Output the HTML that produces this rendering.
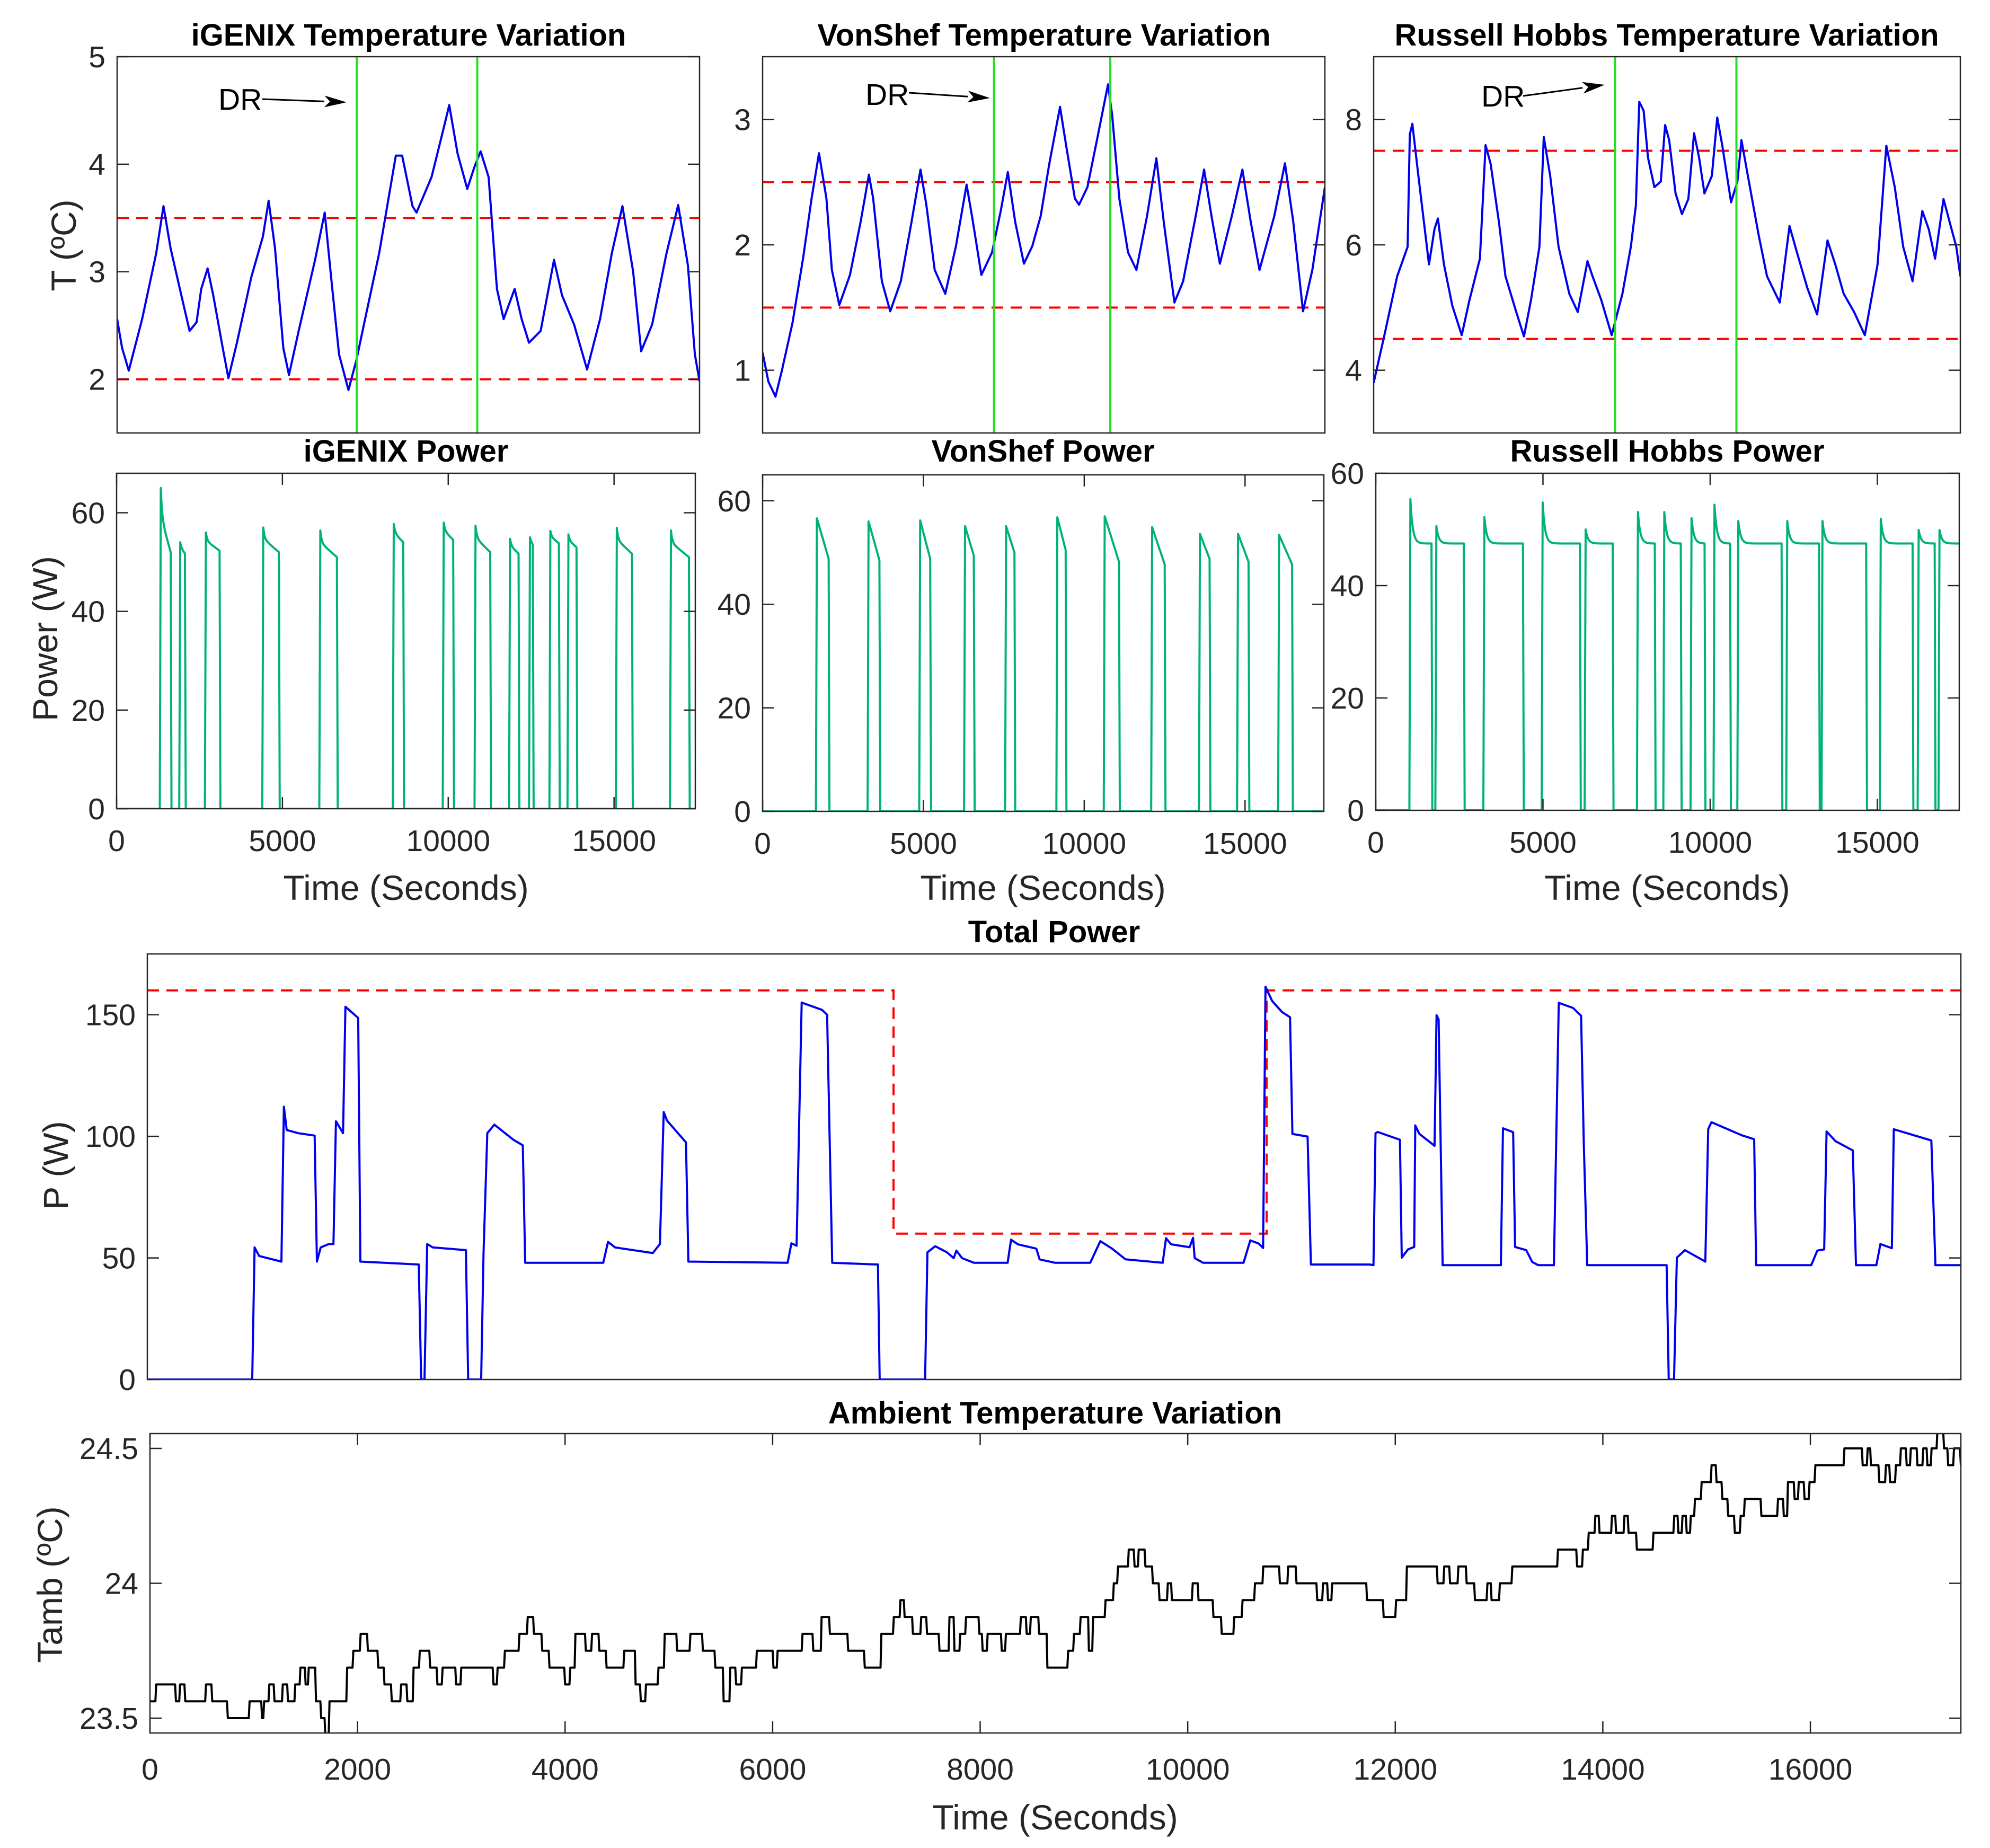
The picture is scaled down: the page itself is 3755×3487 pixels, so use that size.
<!DOCTYPE html>
<html><head><meta charset="utf-8"><title>Temperature and Power Variation</title>
<style>html,body{margin:0;padding:0;background:#fff}svg{display:block}text{font-family:"Liberation Sans",Arial,sans-serif;fill:#262626}.t{font-weight:bold;font-size:58px;fill:#000}.tk{font-size:57px}.al{font-size:66px}</style>
</head><body>
<svg id="fig" width="3755" height="3487" viewBox="0 0 3755 3487" xmlns="http://www.w3.org/2000/svg">
<rect width="3755" height="3487" fill="#fff"/>
<text class="t" x="771" y="86" text-anchor="middle">iGENIX Temperature Variation</text>
<text class="t" x="1970" y="86" text-anchor="middle">VonShef Temperature Variation</text>
<text class="t" x="3145" y="86" text-anchor="middle">Russell Hobbs Temperature Variation</text>
<text class="t" x="766" y="871" text-anchor="middle">iGENIX Power</text>
<text class="t" x="1968" y="871" text-anchor="middle">VonShef Power</text>
<text class="t" x="3146" y="871" text-anchor="middle">Russell Hobbs Power</text>
<text class="t" x="1989" y="1778" text-anchor="middle">Total Power</text>
<text class="t" x="1991" y="2686" text-anchor="middle">Ambient Temperature Variation</text>
<text class="al" x="766" y="1698" text-anchor="middle">Time (Seconds)</text>
<text class="al" x="1968" y="1698" text-anchor="middle">Time (Seconds)</text>
<text class="al" x="3146" y="1698" text-anchor="middle">Time (Seconds)</text>
<text class="al" x="1991" y="3452" text-anchor="middle">Time (Seconds)</text>
<text class="al" x="143" y="463" text-anchor="middle" transform="rotate(-90 143 463)">T (ºC)</text>
<text class="al" x="108" y="1205" text-anchor="middle" transform="rotate(-90 108 1205)">Power (W)</text>
<text class="al" x="128" y="2199" text-anchor="middle" transform="rotate(-90 128 2199)">P (W)</text>
<text class="al" x="117" y="2990" text-anchor="middle" transform="rotate(-90 117 2990)">Tamb (ºC)</text>
<g id="clips"></g>
</svg>
<script>
// ---- data ----
const XMAX = 17450;
const drStart = 7180;
const drEnd = 10790;
const igTempT = [0,150,350,750,1170,1390,1600,1880,2170,2380,2520,2710,2880,3165,3335,3590,4020,4370,4540,4730,4980,5150,5440,5930,6220,6430,6650,6930,7170,7430,7850,8350,8540,8850,8970,9420,9780,9950,10200,10490,10700,10890,11130,11380,11580,11910,12120,12340,12690,13090,13330,13690,14080,14470,14820,15140,15460,15700,16030,16460,16810,17100,17310,17450];
const igTempV = [2.56,2.29,2.08,2.56,3.17,3.61,3.22,2.84,2.45,2.53,2.84,3.03,2.78,2.29,2.01,2.34,2.95,3.33,3.66,3.22,2.29,2.04,2.45,3.11,3.55,2.89,2.23,1.90,2.18,2.56,3.17,4.08,4.08,3.61,3.55,3.88,4.33,4.55,4.10,3.77,3.97,4.12,3.88,2.84,2.56,2.84,2.56,2.34,2.45,3.11,2.78,2.51,2.09,2.56,3.17,3.61,3.00,2.26,2.51,3.17,3.62,3.06,2.23,1.98];
const igLimits = [2, 3.5];
const vsTempT = [0,180,400,600,930,1260,1520,1750,1980,2150,2380,2710,3040,3300,3430,3700,3960,4290,4620,4900,5080,5340,5670,6000,6330,6530,6790,7120,7390,7610,7840,8110,8370,8630,8900,9230,9420,9690,9820,10080,10410,10720,10850,11070,11340,11600,11930,12220,12450,12780,13050,13440,13700,13930,14190,14560,14890,15150,15420,15880,16210,16470,16770,17060,17450];
const vsTempV = [1.14,0.91,0.79,1.00,1.38,1.90,2.37,2.73,2.37,1.80,1.52,1.76,2.18,2.56,2.37,1.71,1.47,1.71,2.18,2.60,2.32,1.80,1.61,1.99,2.48,2.18,1.76,1.94,2.27,2.58,2.18,1.85,1.99,2.23,2.65,3.10,2.79,2.37,2.32,2.46,2.88,3.28,3.03,2.37,1.94,1.80,2.23,2.69,2.18,1.54,1.71,2.23,2.60,2.23,1.85,2.23,2.60,2.18,1.80,2.23,2.65,2.18,1.47,1.80,2.46];
const vsLimits = [1.5, 2.5];
const rhTempT = [0,320,700,1010,1075,1150,1330,1645,1810,1910,2090,2340,2620,2850,3160,3330,3480,3730,3920,4240,4470,4680,4930,5060,5250,5500,5820,6070,6360,6510,6770,7080,7400,7650,7800,7900,8030,8160,8350,8540,8670,8790,8980,9170,9360,9530,9680,9840,10060,10220,10370,10630,10820,10940,11130,11450,11700,12080,12370,12590,12900,13190,13500,13730,13980,14290,14610,14990,15250,15500,15750,16030,16320,16510,16700,16950,17140,17330,17450];
const rhTempV = [3.80,4.56,5.50,5.97,7.76,7.93,7.10,5.69,6.25,6.42,5.69,5.03,4.56,5.12,5.78,7.59,7.29,6.35,5.50,4.93,4.54,5.12,5.97,7.72,7.10,5.97,5.22,4.93,5.74,5.50,5.12,4.56,5.22,5.97,6.63,8.28,8.14,7.39,6.92,7.01,7.91,7.67,6.82,6.49,6.73,7.78,7.39,6.82,7.10,8.03,7.58,6.68,7.01,7.67,7.10,6.16,5.50,5.08,6.30,5.88,5.31,4.89,6.07,5.69,5.22,4.93,4.56,5.69,7.58,6.92,5.97,5.42,6.54,6.25,5.78,6.73,6.35,5.97,5.50];
const rhLimits = [4.5, 7.5];
const igOn = [1302,1889,2662,4393,6113,8328,9834,10793,11834,12435,13050,13595,15054,16686];
const igOff = [1631,2060,3105,4894,6643,8643,10149,11265,12120,12550,13337,13867,15540,17258];
const igPeak = [65,54,56,57,56.4,57.7,58,57.4,54.7,55,56.3,55.6,56.9,56.4];
const igEnd = [52,51.7,52.3,52,51,54,54.5,52,51.7,53.5,53.8,53,51.7,51];
const vsOn = [1658,3264,4869,6264,7540,9133,10607,12081,13568,14753,16029];
const vsOff = [2053,3632,5211,6567,7830,9422,11081,12502,13897,15109,16463];
const vsPeak = [56.6,56,56.2,55.1,55.1,56.8,57,54.9,53.6,53.6,53.4];
const vsEnd = [48.8,48.5,48.8,49.4,50,50.5,48.2,47.7,48.8,48.2,47.7];
const rhOn = [1005,1781,3218,4961,6246,7810,8599,9413,10100,10812,12275,13330,15073,16206,16829];
const rhOff = [1666,2633,4401,6106,7085,8344,9121,9833,10596,12135,13254,14665,16053,16714,17450];
const rhPeak = [55.4,50.6,52.2,54.8,50,53.1,53.1,52,54.4,51.5,51.5,51.5,51.9,49.9,49.9];
const rhEnd = [47.5,47.5,47.5,47.5,47.5,47.5,47.5,47.5,47.5,47.5,47.5,47.5,47.5,47.5,47.5];
const totT = [0,1009,1032,1076,1177,1290,1314,1341,1452,1610,1632,1668,1746,1791,1815,1883,1906,2029,2050,2612,2635,2667,2693,2747,3065,3087,3212,3235,3271,3339,3522,3613,3636,4387,4433,4501,4864,4932,4969,5000,5183,5206,6161,6198,6247,6296,6492,6541,6590,7030,7047,7484,7506,7581,7694,7759,7785,7840,7954,8278,8311,8376,8554,8586,8732,9073,9170,9283,9413,9770,9802,9851,10029,10062,10078,10159,10548,10613,10694,10736,10759,10824,10921,10995,11018,11164,11196,11764,11798,11818,11838,12053,12070,12131,12190,12200,12240,12386,12405,12425,12464,13024,13044,13142,13161,13268,13326,13385,13534,13581,13718,13796,13823,13855,14619,14639,14690,14717,14795,14991,15019,15050,15344,15461,15480,16010,16069,16135,16158,16244,16410,16441,16637,16676,16786,16805,17166,17205,17450];
const totP = [0,0,54.3,50.8,49.7,48.5,112.2,102.6,101.3,100.3,48.5,54.3,55.7,55.7,106.2,101.3,153.3,148.7,48.5,47.3,0,0,55.7,54.3,53.2,0,0,52,101.3,104.8,98.6,96.3,48,48,56.6,54.3,52,55.7,110,106.5,97.5,48.5,48,56,55,155,152,150,48,47.3,0,0,52.3,54.8,52.3,49.9,53,49.9,48,48,57.5,55.6,53.8,49.4,48,48,56.9,53.8,49.4,48,58.1,55.6,54.4,58.3,49.9,48,48,57.2,55.9,54.1,161.5,155.6,151,149,101,99.9,47.3,47.3,47,101.3,101.8,98.6,50.1,53.5,54.5,104.5,101,96.1,149.8,148,47,47,103.3,101.7,54.5,53.2,48.3,47,47,154.9,152.8,149.6,95.5,47,47,0,0,50.1,53.2,48.5,103,105.8,100.4,98.8,47,47,53,53.5,102,98,94.2,47,47,55.7,54,102.9,98.3,47,47];
const limitT = [0,7180,7180,10770,10770,17450];
const limitP = [160,160,60,60,160,160];
const ambT = [0,60,250,290,340,540,600,750,960,1080,1100,1150,1200,1280,1330,1400,1450,1500,1530,1600,1650,1690,1730,1900,1960,2030,2100,2200,2260,2330,2420,2480,2540,2600,2700,2770,2820,2950,3000,3310,3350,3420,3560,3640,3700,3780,3850,4000,4050,4100,4200,4260,4330,4400,4570,4680,4730,4780,4900,4960,5080,5208,5328,5448,5528,5592,5648,5704,5848,6008,6048,6288,6392,6472,6552,6728,6888,7048,7168,7232,7272,7352,7432,7488,7608,7704,7752,7808,7864,7992,8024,8072,8208,8248,8392,8448,8488,8568,8648,8848,8904,8968,9048,9088,9208,9288,9328,9432,9488,9528,9592,9664,9728,9808,9848,10048,10104,10248,10328,10448,10528,10648,10728,10888,10968,11048,11248,11304,11352,11392,11728,11888,12008,12112,12408,12472,12528,12608,12688,12768,12888,12928,13008,13128,13568,13752,13808,13864,13928,13968,14088,14128,14208,14248,14328,14488,14688,14728,14768,14808,14848,14888,14952,15048,15096,15152,15208,15272,15328,15368,15528,15688,15744,15784,15848,15888,15944,15992,16048,16328,16504,16552,16584,16664,16728,16768,16824,16872,16928,16968,17032,17088,17128,17168,17224,17288,17328,17384,17450];
const ambV = [23.5625,23.625,23.5625,23.625,23.5625,23.625,23.5625,23.5,23.5625,23.5,23.5625,23.625,23.5625,23.625,23.5625,23.625,23.6875,23.625,23.6875,23.5625,23.5,23.4375,23.5625,23.6875,23.75,23.8125,23.75,23.6875,23.625,23.5625,23.625,23.5625,23.6875,23.75,23.6875,23.625,23.6875,23.625,23.6875,23.625,23.6875,23.75,23.8125,23.875,23.8125,23.75,23.6875,23.625,23.6875,23.8125,23.75,23.8125,23.75,23.6875,23.75,23.625,23.5625,23.625,23.6875,23.8125,23.75,23.8125,23.75,23.6875,23.5625,23.6875,23.625,23.6875,23.75,23.6875,23.75,23.8125,23.75,23.875,23.8125,23.75,23.6875,23.8125,23.875,23.9375,23.875,23.8125,23.875,23.8125,23.75,23.875,23.75,23.8125,23.875,23.8125,23.75,23.8125,23.75,23.8125,23.875,23.8125,23.875,23.8125,23.6875,23.75,23.8125,23.875,23.75,23.875,23.9375,24,24.0625,24.125,24.0625,24.125,24.0625,24,23.9375,24,23.9375,24,23.9375,23.875,23.8125,23.875,23.9375,24,24.0625,24,24.0625,24,23.9375,24,23.9375,24,23.9375,23.875,23.9375,24.0625,24,24.0625,24,24.0625,24,23.9375,24,23.9375,24,24.0625,24.125,24.0625,24.125,24.1875,24.25,24.1875,24.25,24.1875,24.25,24.1875,24.125,24.1875,24.25,24.1875,24.25,24.1875,24.25,24.3125,24.375,24.4375,24.375,24.3125,24.25,24.1875,24.25,24.3125,24.25,24.3125,24.25,24.375,24.3125,24.375,24.3125,24.375,24.4375,24.5,24.4375,24.5,24.4375,24.375,24.4375,24.375,24.4375,24.5,24.4375,24.5,24.4375,24.5,24.4375,24.5,24.5625,24.5,24.4375,24.5,24.4375];
const powerTicks = [0,5000,10000,15000];
const powerYTicks = [0,20,40,60];
const igTempTicks = [2,3,4,5];
const vsTempTicks = [1,2,3];
const rhTempTicks = [4,6,8];
const totYTicks = [0,50,100,150];
const ambYTicks = [23.5,24,24.5];
const ambXTicks = [0,2000,4000,6000,8000,10000,12000,14000,16000];

// ---- drawing ----
const NS = 'http://www.w3.org/2000/svg';
const svg = document.getElementById('fig');
function mk(tag, attrs, parent) {
  const e = document.createElementNS(NS, tag);
  for (const k in attrs) e.setAttribute(k, attrs[k]);
  (parent || svg).appendChild(e);
  return e;
}
let clipN = 0;
function makePanel(name, L, T, R, B, y0, y1) {
  const p = {L, T, R, B};
  p.sx = t => L + t / XMAX * (R - L);
  p.sy = v => B - (v - y0) / (y1 - y0) * (B - T);
  clipN++;
  const cp = mk('clipPath', {id: 'c' + clipN}, document.getElementById('clips'));
  mk('rect', {x: L, y: T, width: R - L, height: B - T}, cp);
  p.g = mk('g', {'clip-path': 'url(#c' + clipN + ')'});
  
  
  return p;
}
function frame(p, name, yTicks, xTicks, xLabelOff) {
  const box = mk('rect', {x: p.L, y: p.T, width: p.R - p.L, height: p.B - p.T, fill: 'none', stroke: '#262626', 'stroke-width': 2.5});
  
  
  yTicks.forEach(v => {
    const y = p.sy(v);
    const tk = mk('path', {d: `M${p.L},${y}h22M${p.R},${y}h-22`, stroke: '#262626', 'stroke-width': 2.5});
    
    
    const lb = mk('text', {x: p.L - 22, y: y + 20, 'text-anchor': 'end', class: 'tk'});
    lb.textContent = String(v);
    
    
  });
  (xTicks || []).forEach(t => {
    const x = p.sx(t);
    const tk = mk('path', {d: `M${x},${p.B}v-22M${x},${p.T}v22`, stroke: '#262626', 'stroke-width': 2.5});
    
    
    const lb = mk('text', {x: x, y: p.B + xLabelOff, 'text-anchor': 'middle', class: 'tk'});
    lb.textContent = String(t);
    
    
  });
}
function linePath(p, ts, vs) {
  return ts.map((t, i) => (i ? 'L' : 'M') + p.sx(t).toFixed(1) + ',' + p.sy(vs[i]).toFixed(1)).join('');
}
function hline(p, v, name) {
  const l = mk('line', {x1: p.L, x2: p.R, y1: p.sy(v), y2: p.sy(v), stroke: '#ff0000', 'stroke-width': 4, 'stroke-dasharray': '22 14'}, p.g);
  
  
}
function vline(p, t, name) {
  const l = mk('line', {x1: p.sx(t), x2: p.sx(t), y1: p.T, y2: p.B, stroke: '#22e022', 'stroke-width': 4}, p.g);
  
  
}
function arrow(x1, y1, x2, y2, name) {
  const a = Math.atan2(y2 - y1, x2 - x1), L = 42, W = 11;
  const bx = x2 - L * Math.cos(a), by = y2 - L * Math.sin(a);
  const g = mk('g', {});
  
  
  mk('line', {x1, y1, x2: bx, y2: by, stroke: '#000', 'stroke-width': 3}, g);
  const px = -Math.sin(a) * W, py = Math.cos(a) * W;
  mk('polygon', {points: `${x2},${y2} ${bx + px},${by + py} ${bx + L * 0.25 * Math.cos(a)},${by + L * 0.25 * Math.sin(a)} ${bx - px},${by - py}`, fill: '#000'}, g);
}
function drText(x, y, name) {
  const t = mk('text', {x, y, class: 'tk', style: 'fill:#000'});
  t.textContent = 'DR';
  
  
}
function pulseSeries(on, off, peak, end, a, tau) {
  const ts = [0], vs = [0];
  on.forEach((t0, i) => {
    const t1 = off[i];
    ts.push(t0); vs.push(0);
    ts.push(t0 + 30); vs.push(peak[i]);
    for (let t = t0 + 40; t < t1 - 5; t += 10) {
      const f = (t - t0 - 30) / (t1 - t0 - 30);
      ts.push(t);
      vs.push(end[i] + (peak[i] - end[i]) * (a * Math.exp(-(t - t0 - 30) / tau) + (1 - a) * (1 - f)));
    }
    ts.push(t1); vs.push(end[i]);
    if (t1 < XMAX) { ts.push(t1 + 25); vs.push(0); }
  });
  if (ts[ts.length - 1] < XMAX) { ts.push(XMAX); vs.push(0); }
  return [ts, vs];
}

// Temperature panels
const pIgT = makePanel('igenix-temp', 221, 107, 1320, 817, 1.5, 5);
const pVsT = makePanel('vonshef-temp', 1439, 107, 2500, 817, 0.5, 3.5);
const pRhT = makePanel('russell-temp', 2592, 107, 3699, 817, 3, 9);
[[pIgT, igLimits, igTempT, igTempV, 'igenix'], [pVsT, vsLimits, vsTempT, vsTempV, 'vonshef'], [pRhT, rhLimits, rhTempT, rhTempV, 'russell']].forEach(([p, lim, ts, vs, n]) => {
  hline(p, lim[0], n + '-lower-limit');
  hline(p, lim[1], n + '-upper-limit');
  const s = mk('path', {d: linePath(p, ts, vs), fill: 'none', stroke: '#0000f0', 'stroke-width': 4, 'stroke-linejoin': 'round'}, p.g);
  
  
  vline(p, drStart, n + '-dr-start-line');
  vline(p, drEnd, n + '-dr-end-line');
});
frame(pIgT, 'igenix-temp', igTempTicks, null, 0);
frame(pVsT, 'vonshef-temp', vsTempTicks, null, 0);
frame(pRhT, 'russell-temp', rhTempTicks, null, 0);
drText(412, 207, 'igenix-dr-label');
arrow(495, 187, 654, 193, 'igenix-dr-arrow');
drText(1633, 198, 'vonshef-dr-label');
arrow(1715, 175, 1868, 185, 'vonshef-dr-arrow');
drText(2795, 201, 'russell-dr-label');
arrow(2874, 181, 3028, 160, 'russell-dr-arrow');

// Power panels
const pIgP = makePanel('igenix-power', 220, 893, 1312, 1526, 0, 68);
const pVsP = makePanel('vonshef-power', 1439, 896, 2498, 1531, 0, 65);
const pRhP = makePanel('russell-power', 2596, 893, 3697, 1529, 0, 60);
const igS = pulseSeries(igOn, igOff, igPeak, igEnd, 0.45, 40);
const vsS = pulseSeries(vsOn, vsOff, vsPeak, vsEnd, 0.0, 50);
const rhS = pulseSeries(rhOn, rhOff, rhPeak, rhEnd, 1.0, 70);
[[pIgP, igS, 'igenix'], [pVsP, vsS, 'vonshef'], [pRhP, rhS, 'russell']].forEach(([p, s, n]) => {
  const l = mk('path', {d: linePath(p, s[0], s[1]), fill: 'none', stroke: '#00b27a', 'stroke-width': 4, 'stroke-linejoin': 'round'}, p.g);
  
  
});
frame(pIgP, 'igenix-power', powerYTicks, powerTicks, 80);
frame(pVsP, 'vonshef-power', powerYTicks, powerTicks, 80);
frame(pRhP, 'russell-power', powerYTicks, powerTicks, 80);

// Total power
const pTot = makePanel('total-power', 278, 1800, 3700, 2603, 0, 175);
const lim = mk('path', {d: linePath(pTot, limitT, limitP), fill: 'none', stroke: '#ff0000', 'stroke-width': 4, 'stroke-dasharray': '22 14'}, pTot.g);


const tl = mk('path', {d: linePath(pTot, totT, totP), fill: 'none', stroke: '#0000f0', 'stroke-width': 4, 'stroke-linejoin': 'round'}, pTot.g);


frame(pTot, 'total-power', totYTicks, null, 0);

// Ambient
const pAmb = makePanel('ambient', 283, 2705, 3700, 3270, 23.445, 24.555);
const aT = [], aV = [];
ambT.forEach((t, i) => {
  if (i) { aT.push(t - 8); aV.push(ambV[i - 1]); }
  aT.push(t); aV.push(ambV[i]);
});
const al = mk('path', {d: linePath(pAmb, aT, aV), fill: 'none', stroke: '#000', 'stroke-width': 4, 'stroke-linejoin': 'round'}, pAmb.g);


frame(pAmb, 'ambient', ambYTicks, ambXTicks, 88);
</script>
</body></html>
